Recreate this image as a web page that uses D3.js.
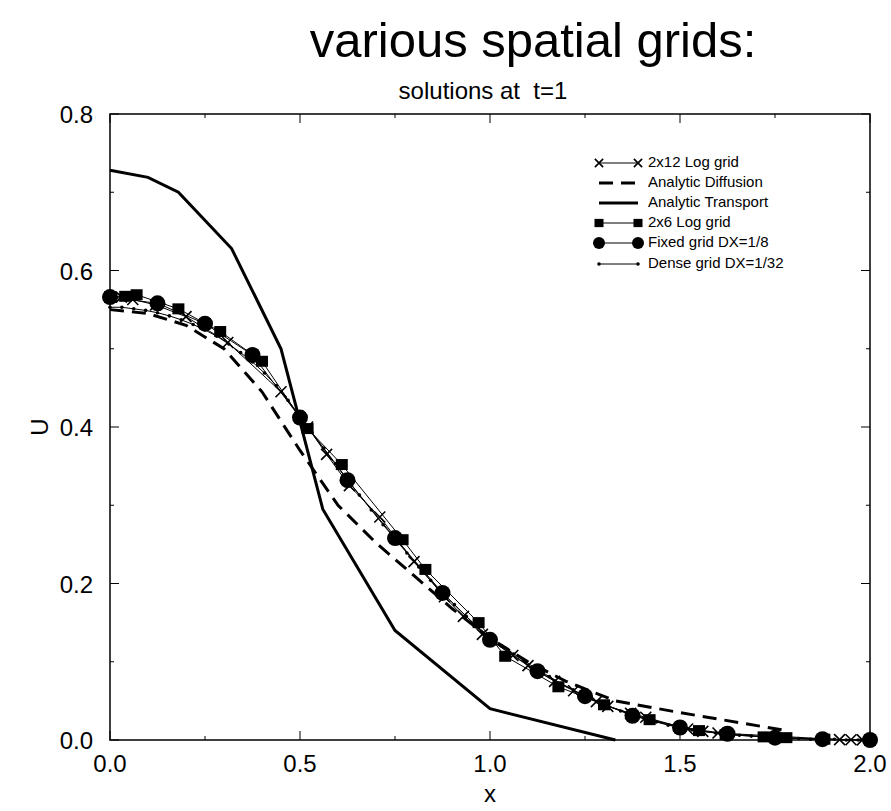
<!DOCTYPE html>
<html>
<head>
<meta charset="utf-8">
<script src="https://cdn.jsdelivr.net/npm/d3@7"></script>
<style>
  body { margin: 0; background: #fff; }
  svg { font-family: "Liberation Sans", Arial, sans-serif; }
</style>
</head>
<body>
<svg id="chart" width="891" height="811"></svg>
<script>
// values
const transportX = [0, 0.1, 0.18, 0.32, 0.45, 0.56, 0.75, 1.0, 1.33];
const transportU = [0.728, 0.719, 0.700, 0.628, 0.500, 0.295, 0.140, 0.040, 0.0];

const diffusionX = [0, 0.1, 0.2, 0.3, 0.4, 0.5, 0.6, 0.7, 0.8, 0.9, 1.0, 1.1, 1.2, 1.33, 1.5, 1.78];
const diffusionU = [0.550, 0.545, 0.530, 0.500, 0.445, 0.370, 0.300, 0.252, 0.210, 0.168, 0.130, 0.100, 0.075, 0.050, 0.035, 0.012];

const log12X = [0, 0.03, 0.06, 0.12, 0.2, 0.31, 0.45, 0.52, 0.57, 0.63, 0.71, 0.8, 0.88, 0.93, 0.98, 1.06, 1.1, 1.17, 1.22, 1.28, 1.31, 1.37, 1.41, 1.52, 1.56, 1.6, 1.92, 1.95, 1.98, 2.0];
const log12U = [0.566, 0.566, 0.563, 0.556, 0.541, 0.508, 0.445, 0.400, 0.365, 0.325, 0.285, 0.228, 0.183, 0.158, 0.135, 0.108, 0.095, 0.075, 0.063, 0.049, 0.043, 0.034, 0.029, 0.014, 0.011, 0.009, 0.0005, 0.0003, 0.0001, 0];

const log6X = [0, 0.04, 0.07, 0.18, 0.29, 0.40, 0.52, 0.61, 0.77, 0.83, 0.97, 1.04, 1.18, 1.30, 1.42, 1.55, 1.62, 1.72, 1.78, 1.88];
const log6U = [0.566, 0.567, 0.569, 0.551, 0.522, 0.484, 0.398, 0.352, 0.256, 0.218, 0.150, 0.107, 0.068, 0.045, 0.026, 0.012, 0.007, 0.004, 0.003, 0.001];

const fixedX = [0, 0.125, 0.25, 0.375, 0.5, 0.625, 0.75, 0.875, 1.0, 1.125, 1.25, 1.375, 1.5, 1.625, 1.75, 1.875, 2.0];
const fixedU = [0.566, 0.558, 0.532, 0.492, 0.412, 0.332, 0.258, 0.188, 0.128, 0.088, 0.056, 0.031, 0.016, 0.008, 0.003, 0.001, 0.0];

const denseX = [0, 0.03125, 0.0625, 0.09375, 0.125, 0.15625, 0.1875, 0.21875, 0.25, 0.28125, 0.3125, 0.34375, 0.375, 0.40625, 0.4375, 0.46875,
  0.5, 0.53125, 0.5625, 0.59375, 0.625, 0.65625, 0.6875, 0.71875, 0.75, 0.78125, 0.8125, 0.84375, 0.875, 0.90625, 0.9375, 0.96875,
  1.0, 1.03125, 1.0625, 1.09375, 1.125, 1.15625, 1.1875, 1.21875, 1.25, 1.28125, 1.3125, 1.34375, 1.375, 1.40625, 1.4375, 1.46875,
  1.5, 1.53125, 1.5625, 1.59375, 1.625, 1.65625, 1.6875, 1.71875, 1.75, 1.78125, 1.8125, 1.84375, 1.875, 1.90625, 1.9375, 1.96875, 2.0];
const denseU = [0.553, 0.553, 0.551, 0.549, 0.546, 0.542, 0.537, 0.531, 0.524, 0.516, 0.506, 0.495, 0.483, 0.469, 0.453, 0.434,
  0.413, 0.393, 0.373, 0.353, 0.333, 0.313, 0.294, 0.275, 0.257, 0.239, 0.221, 0.204, 0.188, 0.173, 0.158, 0.144,
  0.131, 0.120, 0.110, 0.100, 0.090, 0.081, 0.072, 0.064, 0.056, 0.049, 0.043, 0.037, 0.032, 0.027, 0.023, 0.019,
  0.016, 0.013, 0.011, 0.009, 0.007, 0.006, 0.005, 0.004, 0.003, 0.002, 0.002, 0.001, 0.001, 0.001, 0, 0, 0];

const xTicks = [0, 0.5, 1.0, 1.5, 2.0];
const yTicks = [0, 0.2, 0.4, 0.6, 0.8];
const legendNames = ["2x12 Log grid", "Analytic Diffusion", "Analytic Transport", "2x6 Log grid", "Fixed grid DX=1/8", "Dense grid DX=1/32"];

const zip = (xs, us) => xs.map((x, i) => ({x: x, u: us[i]}));

const svg = d3.select("#chart");
const margin = {left: 110, right: 21, top: 114, bottom: 71};
const width = 891, height = 811;

const x = d3.scaleLinear().domain([0, 2]).range([margin.left, width - margin.right]);
const y = d3.scaleLinear().domain([0, 0.8]).range([height - margin.bottom, margin.top]);

const line = d3.line().x(d => x(d.x)).y(d => y(d.u));

function drawMarker(g, kind, cx, cy, s) {
  s = s || 1;
  if (kind === "cross") {
    const h = 5.5 * s;
    g.append("path")
      .attr("d", `M${cx-h},${cy-h}L${cx+h},${cy+h}M${cx-h},${cy+h}L${cx+h},${cy-h}`)
      .attr("stroke", "#000").attr("stroke-width", 1.6).attr("fill", "none");
  } else if (kind === "square") {
    g.append("rect")
      .attr("x", cx - 6 * s).attr("y", cy - 5.5 * s)
      .attr("width", 12 * s).attr("height", 11 * s)
      .attr("fill", "#000");
  } else if (kind === "circle") {
    g.append("circle").attr("cx", cx).attr("cy", cy).attr("r", 8 * s).attr("fill", "#000");
  } else if (kind === "dot") {
    g.append("circle").attr("cx", cx).attr("cy", cy).attr("r", 1.8).attr("fill", "#000");
  }
}

function writeAxes() {
  const frame = svg.append("g").attr("class", "frame");
  frame.append("rect")
    .attr("x", x(0)).attr("y", y(0.8))
    .attr("width", x(2) - x(0)).attr("height", y(0) - y(0.8))
    .attr("fill", "none").attr("stroke", "#000").attr("stroke-width", 1.5);

  // inward ticks on all four sides
  const xMinor = d3.range(0, 2.01, 0.25);
  const yMinor = d3.range(0, 0.81, 0.1);
  xMinor.forEach(v => {
    const len = xTicks.some(t => Math.abs(t - v) < 1e-6) ? 9 : 4;
    frame.append("line").attr("x1", x(v)).attr("x2", x(v)).attr("y1", y(0)).attr("y2", y(0) - len).attr("stroke", "#000");
    frame.append("line").attr("x1", x(v)).attr("x2", x(v)).attr("y1", y(0.8)).attr("y2", y(0.8) + len).attr("stroke", "#000");
  });
  yMinor.forEach(v => {
    const len = yTicks.some(t => Math.abs(t - v) < 1e-6) ? 9 : 4;
    frame.append("line").attr("y1", y(v)).attr("y2", y(v)).attr("x1", x(0)).attr("x2", x(0) + len).attr("stroke", "#000");
    frame.append("line").attr("y1", y(v)).attr("y2", y(v)).attr("x1", x(2)).attr("x2", x(2) - len).attr("stroke", "#000");
  });

  svg.append("g")
    .selectAll("text")
    .data(xTicks)
    .join("text")
      .attr("x", d => x(d))
      .attr("y", y(0) + 32)
      .attr("text-anchor", "middle")
      .attr("font-size", 24)
      .text(d => d.toFixed(1));

  svg.append("g")
    .selectAll("text")
    .data(yTicks)
    .join("text")
      .attr("x", x(0) - 17)
      .attr("y", d => y(d) + 9)
      .attr("text-anchor", "end")
      .attr("font-size", 24)
      .text(d => d.toFixed(1));

  svg.append("text")
    .attr("x", x(1)).attr("y", 802)
    .attr("text-anchor", "middle").attr("font-size", 24)
    .text("x");
  svg.append("text")
    .attr("transform", `translate(48,${y(0.4)}) rotate(-90)`)
    .attr("text-anchor", "middle").attr("font-size", 24)
    .text("U");
}

function writeTitles() {
  svg.append("text")
    .attr("x", 533).attr("y", 57)
    .attr("text-anchor", "middle").attr("font-size", 49)
    .text("various spatial grids:");
  svg.append("text")
    .attr("x", 483).attr("y", 99)
    .attr("text-anchor", "middle").attr("font-size", 24)
    .style("white-space", "pre")
    .text("solutions at  t=1");
}

function writeSeries() {
  const plot = svg.append("g").attr("class", "series");

  plot.append("path").datum(zip(transportX, transportU))
    .attr("d", line).attr("fill", "none").attr("stroke", "#000").attr("stroke-width", 3);
  plot.append("path").datum(zip(diffusionX, diffusionU))
    .attr("d", line).attr("fill", "none").attr("stroke", "#000").attr("stroke-width", 3)
    .attr("stroke-dasharray", "14,8");

  const numeric = [
    {data: zip(denseX, denseU), kind: "dot"},
    {data: zip(fixedX, fixedU), kind: "circle"},
    {data: zip(log6X, log6U), kind: "square"},
    {data: zip(log12X, log12U), kind: "cross"}
  ];
  numeric.forEach(s => {
    plot.append("path").datum(s.data)
      .attr("d", line).attr("fill", "none").attr("stroke", "#000").attr("stroke-width", 1);
    const mg = plot.append("g");
    s.data.forEach(d => drawMarker(mg, s.kind, x(d.x), y(d.u)));
  });
}

function writeLegend() {
  const rowY = [163, 183, 203, 223, 243, 264];
  const kinds = ["cross", "dash", "solid", "square", "circle", "dot"];
  const lx1 = 599, lx2 = 638;
  const g = svg.append("g").attr("class", "legend");
  kinds.forEach((k, i) => {
    const yy = rowY[i];
    const ln = g.append("line").attr("x1", lx1).attr("x2", lx2).attr("y1", yy).attr("y2", yy).attr("stroke", "#000");
    if (k === "dash") ln.attr("stroke-width", 3).attr("stroke-dasharray", "14,8");
    else if (k === "solid") ln.attr("stroke-width", 3);
    else ln.attr("stroke-width", 1);
    if (k !== "dash" && k !== "solid") {
      drawMarker(g, k, lx1, yy, 0.75);
      drawMarker(g, k, lx2, yy, 0.75);
    }
    g.append("text")
      .attr("x", 648).attr("y", yy)
      .attr("dominant-baseline", "middle")
      .attr("font-size", 15)
      .text(legendNames[i]);
  });
}

writeSeries();
writeAxes();
writeTitles();
writeLegend();
</script>
</body>
</html>
